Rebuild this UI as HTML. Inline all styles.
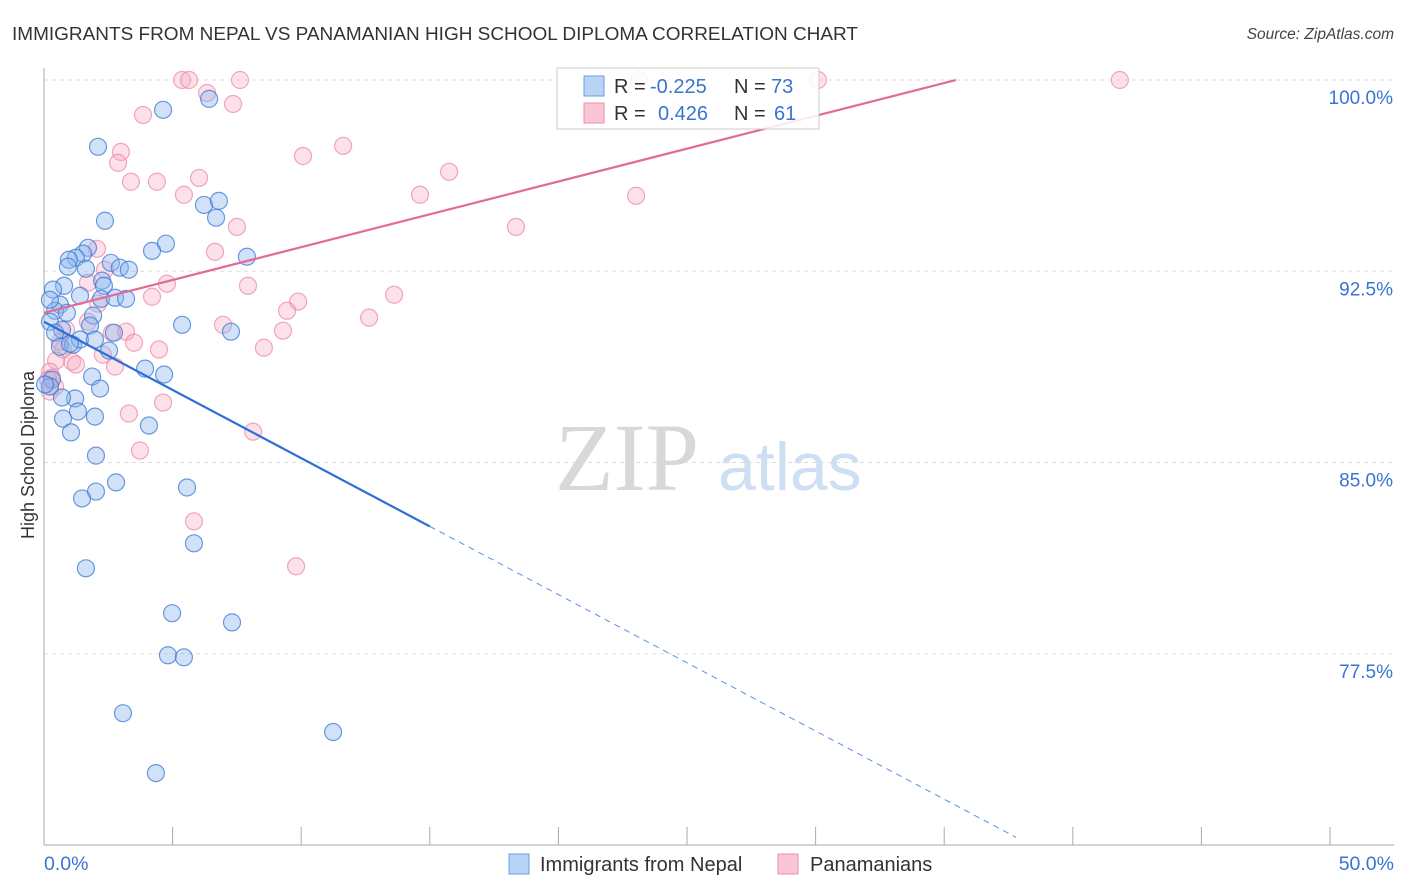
<!DOCTYPE html>
<html><head><meta charset="utf-8"><style>
body{margin:0;background:#fff;font-family:"Liberation Sans",sans-serif}
svg{display:block}
</style></head><body>
<svg id="chart" width="1406" height="892" viewBox="0 0 1406 892" xmlns="http://www.w3.org/2000/svg" font-family="Liberation Sans, sans-serif">
<text x="12" y="40" font-size="18" fill="#333" textLength="846" lengthAdjust="spacingAndGlyphs">IMMIGRANTS FROM NEPAL VS PANAMANIAN HIGH SCHOOL DIPLOMA CORRELATION CHART</text>
<text x="1394" y="39" font-size="15.5" fill="#444" text-anchor="end" font-style="italic">Source: ZipAtlas.com</text>
<g>
<text x="555" y="490" font-size="96" fill="#d8d8d8" font-family="Liberation Serif, serif">ZIP</text>
<text x="718" y="490" font-size="68" fill="#cfdff3">atlas</text>
</g>
<g id="grid"></g>
<g id="axes"></g>
<g id="pts"></g>
<g id="lines"></g>
<text transform="translate(34,455) rotate(-90)" font-size="18" fill="#333" text-anchor="middle">High School Diploma</text>
<g>
<rect x="557" y="68" width="262" height="61" fill="#fff" fill-opacity="0.85" stroke="#ccc"/>
<rect x="584" y="76" width="20" height="20" fill="#b9d3f5" stroke="#6a9ee6"/>
<rect x="584" y="103" width="20" height="20" fill="#fac5d4" stroke="#ec8fab"/>
<text x="614" y="93" font-size="20" fill="#333">R =</text>
<text x="650" y="93" font-size="20" fill="#3a74d0">-0.225</text>
<text x="734" y="93" font-size="20" fill="#333">N =</text>
<text x="771" y="93" font-size="20" fill="#3a74d0">73</text>
<text x="614" y="120" font-size="20" fill="#333">R =</text>
<text x="658" y="120" font-size="20" fill="#3a74d0">0.426</text>
<text x="734" y="120" font-size="20" fill="#333">N =</text>
<text x="774" y="120" font-size="20" fill="#3a74d0">61</text>
</g>
<g>
<rect x="509" y="854" width="20" height="20" fill="#b9d3f5" stroke="#6a9ee6"/>
<text x="540" y="871" font-size="20" fill="#333">Immigrants from Nepal</text>
<rect x="778" y="854" width="20" height="20" fill="#fac5d4" stroke="#ec8fab"/>
<text x="810" y="871" font-size="20" fill="#333">Panamanians</text>
</g>
</svg>
<script>
const yTicks=[100,92.5,85,77.5];
const yTickLabels=["100.0%","92.5%","85.0%","77.5%"];
const xTickVals=[0,5,10,15,20,25,30,35,40,45,50];
const nepalX=[4.63,6.42,2.10,2.37,6.22,6.80,6.69,4.74,4.20,1.71,1.52,1.24,0.97,0.93,1.63,2.60,2.95,3.30,7.89,2.26,2.33,0.78,0.35,0.62,1.40,2.22,2.76,3.19,0.43,0.89,1.91,0.23,1.79,0.70,0.43,2.72,5.37,7.27,0.62,1.13,1.40,2.53,3.93,4.67,1.87,0.31,0.23,2.18,1.21,1.32,1.98,0.74,1.05,4.08,2.02,2.80,2.02,1.48,5.56,5.83,1.63,4.98,7.31,4.82,5.44,3.07,11.24,4.35,1.01,0.23,0.04,0.70,1.98];
const nepalY=[98.83,99.26,97.38,94.48,95.10,95.26,94.60,93.58,93.30,93.42,93.19,93.03,92.95,92.68,92.60,92.83,92.64,92.56,93.07,92.13,91.93,91.93,91.78,91.19,91.54,91.42,91.46,91.42,90.95,90.87,90.76,90.52,90.37,90.21,90.09,90.09,90.40,90.13,89.54,89.62,89.82,89.39,88.68,88.45,88.37,88.25,87.98,87.90,87.51,87.00,86.80,86.72,86.18,86.45,85.27,84.22,83.86,83.59,84.02,81.83,80.85,79.09,78.73,77.44,77.36,75.17,74.43,72.82,89.66,91.38,88.06,87.55,89.82];
const panX=[5.37,5.64,7.62,23.13,30.09,41.83,6.34,7.35,3.85,2.99,2.88,10.07,11.63,3.38,4.39,6.03,5.44,14.62,15.75,23.02,18.35,7.50,6.65,2.06,2.37,1.71,4.78,7.93,13.61,9.88,9.45,4.20,12.64,2.10,6.96,9.29,2.64,3.19,1.71,3.50,4.47,8.55,2.29,0.74,2.76,1.09,0.47,0.23,0.31,0.43,0.23,4.63,3.30,8.13,3.73,5.83,9.80,0.62,0.16,0.86,1.24];
const panY=[100,100,100,100,100,100,99.49,99.06,98.63,97.18,96.75,97.02,97.42,96.01,96.01,96.16,95.50,95.50,96.40,95.46,94.24,94.24,93.26,93.38,92.56,92.05,92.01,91.93,91.58,91.31,90.95,91.50,90.68,91.23,90.40,90.17,90.09,90.13,90.52,89.70,89.43,89.50,89.23,89.43,88.76,88.96,89.00,88.56,88.33,87.98,87.78,87.35,86.92,86.21,85.47,82.69,80.93,89.74,88.25,90.21,88.84];
const nepalTrend=[90.52,-0.535];   // intercept, slope
const nepalTrendRange=[0,15,37.8]; // solid end, dashed end
const panTrend=[90.87,0.2575];
const panTrendRange=[0,35.45];

const X0=44,X1=1330,Y0=80,Y1=845;
const sx=v=>X0+(v-0)/50*(X1-X0);
const sy=v=>Y0+(100-v)/30*(Y1-Y0);
const NS="http://www.w3.org/2000/svg";
function mk(tag,attrs,parent){const e=document.createElementNS(NS,tag);for(const k in attrs)e.setAttribute(k,attrs[k]);parent.appendChild(e);return e;}
const grid=document.getElementById('grid'),axes=document.getElementById('axes');
yTicks.forEach((t,i)=>{
 const g=mk('line',{x1:X0,x2:1394,y1:sy(t),y2:sy(t),stroke:'#ddd','stroke-dasharray':'4,4'},grid);
 
 
 const tx=mk('text',{x:1393,y:sy(t)+24,'font-size':19,fill:'#3a74d0','text-anchor':'end'},axes);
 
 
 tx.textContent=yTickLabels[i];
});
const ax=mk('line',{x1:X0,x2:X0,y1:68,y2:Y1,stroke:'#aaa'},axes);


const bx=mk('line',{x1:X0,x2:1394,y1:Y1,y2:Y1,stroke:'#aaa'},axes);


xTickVals.forEach(v=>{
 const t=mk('line',{x1:sx(v),x2:sx(v),y1:Y1,y2:v==0?Y1:Y1-18,stroke:'#aaa'},axes);
 
 
});
const l0=mk('text',{x:44,y:870,'font-size':19.5,fill:'#3a74d0'},axes);


l0.textContent='0.0%';
const l1=mk('text',{x:1394,y:870,'font-size':19.5,fill:'#3a74d0','text-anchor':'end'},axes);


l1.textContent='50.0%';
const pts=document.getElementById('pts');
panX.forEach((x,i)=>{
 const c=mk('circle',{cx:sx(x),cy:sy(panY[i]),r:8.5,fill:'rgba(247,168,192,0.35)',stroke:'rgba(236,130,165,0.7)','stroke-width':1.2},pts);
 
 
});
nepalX.forEach((x,i)=>{
 const c=mk('circle',{cx:sx(x),cy:sy(nepalY[i]),r:8.5,fill:'rgba(140,182,238,0.4)',stroke:'rgba(60,120,215,0.75)','stroke-width':1.2},pts);
 
 
});
const lines=document.getElementById('lines');
const f=(tr,x)=>tr[0]+tr[1]*x;
const b1=mk('line',{x1:sx(nepalTrendRange[0]),y1:sy(f(nepalTrend,nepalTrendRange[0])),x2:sx(nepalTrendRange[1]),y2:sy(f(nepalTrend,nepalTrendRange[1])),stroke:'#2e6fd6','stroke-width':2.2},lines);


const b2=mk('line',{x1:sx(nepalTrendRange[1]),y1:sy(f(nepalTrend,nepalTrendRange[1])),x2:sx(nepalTrendRange[2]),y2:sy(f(nepalTrend,nepalTrendRange[2])),stroke:'#5b8fe0','stroke-width':1,'stroke-dasharray':'6,5'},lines);


const p1=mk('line',{x1:sx(panTrendRange[0]),y1:sy(f(panTrend,panTrendRange[0])),x2:sx(panTrendRange[1]),y2:sy(f(panTrend,panTrendRange[1])),stroke:'#e36b93','stroke-width':2.2},lines);


</script>
</body></html>
